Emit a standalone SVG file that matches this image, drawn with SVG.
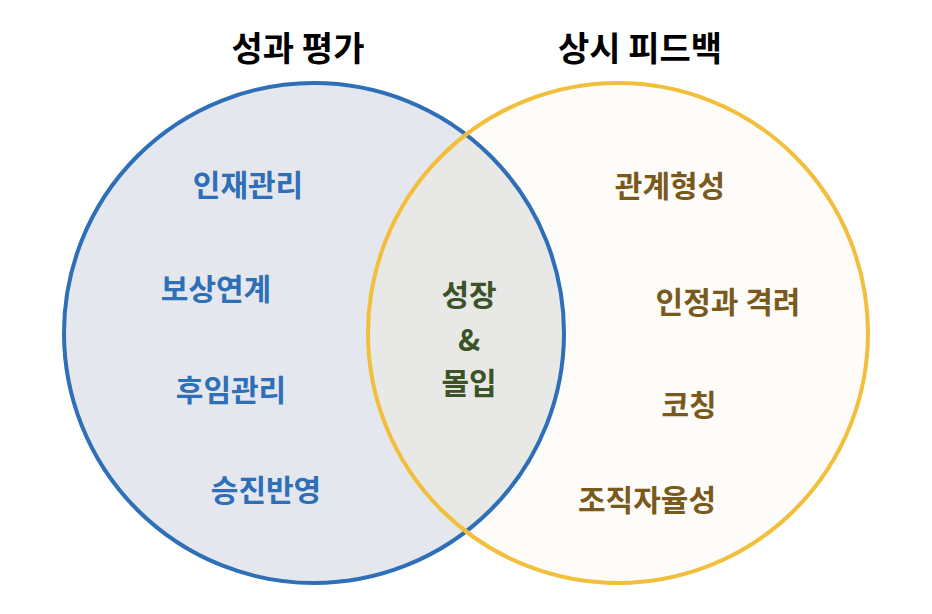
<svg xmlns="http://www.w3.org/2000/svg" width="932" height="614" viewBox="0 0 932 614">
<style>
text{font-family:"Noto Sans CJK KR","Noto Sans",sans-serif;font-weight:bold;text-anchor:middle;dominant-baseline:central}
.t{font-size:34px;fill:#000}
.l{font-size:30px;fill:#2e6fb7}
.c{font-size:30px;fill:#3b5326}
.r{font-size:30px;fill:#7a5a1c}
</style>
<defs><clipPath id="cl"><circle cx="314" cy="333" r="250"/></clipPath></defs>
<rect width="932" height="614" fill="#fff"/>
<g id="left"><circle cx="314" cy="333" r="250" fill="#e4e8ee"/></g>
<g id="right"><circle cx="618" cy="333" r="250" fill="#fdfcf8"/></g>
<g id="overlap"><circle cx="618" cy="333" r="250" fill="#e8e9e6" clip-path="url(#cl)"/></g>
<g id="strokes">
<circle cx="314" cy="333" r="250" fill="none" stroke="#2e6fb7" stroke-width="4"/>
<circle cx="618" cy="333" r="250" fill="none" stroke="#f2bf3c" stroke-width="4"/>
</g>
<g id="titles"><text class="t" x="298" y="46">성과 평가</text><text class="t" x="640" y="46">상시 피드백</text></g>
<g id="leftlabels">
<text class="l" x="248" y="183">인재관리</text>
<text class="l" x="216" y="287">보상연계</text>
<text class="l" x="231" y="388">후임관리</text>
<text class="l" x="266" y="488">승진반영</text>
</g>
<g id="center">
<text class="c" x="469" y="293">성장</text>
<text class="c" x="469" y="338">&amp;</text>
<text class="c" x="469" y="381">몰입</text>
</g>
<g id="rightlabels">
<text class="r" x="670" y="184">관계형성</text>
<text class="r" x="728" y="300">인정과 격려</text>
<text class="r" x="689" y="403">코칭</text>
<text class="r" x="647" y="498">조직자율성</text>
</g>
</svg>
